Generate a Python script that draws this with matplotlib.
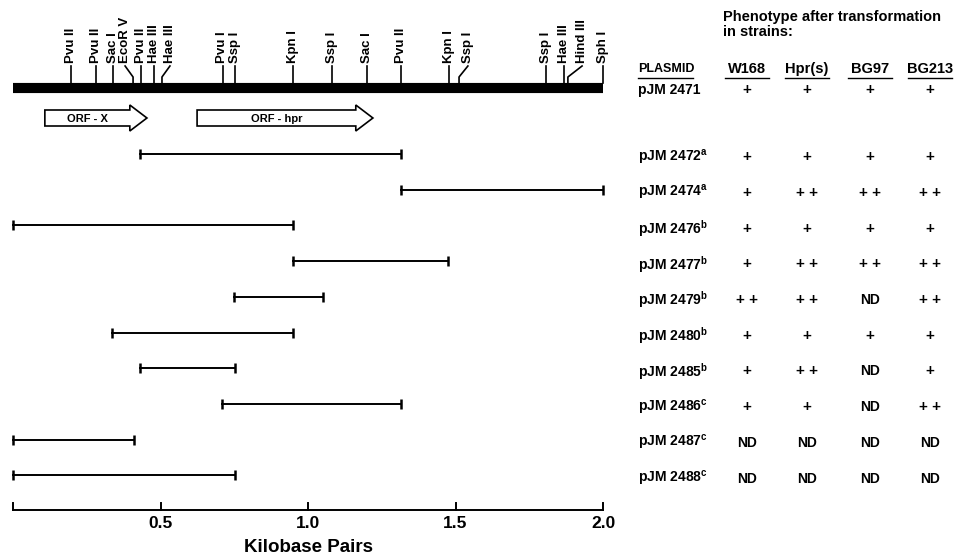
import numpy as np
import matplotlib.pyplot as plt
from matplotlib.patches import Polygon
from matplotlib.transforms import blended_transform_factory

plt.rcParams['font.family'] = ['Liberation Sans', 'DejaVu Sans']
plt.rcParams['font.weight'] = 'bold'
plt.rcParams['mathtext.fontset'] = 'custom'
plt.rcParams['mathtext.bf'] = 'Liberation Sans:bold'

# restriction map (kb)
site_names = ['Pvu II', 'Pvu II', 'Sac I', 'EcoR V', 'Pvu II', 'Hae III', 'Hae III',
              'Pvu I', 'Ssp I', 'Kpn I', 'Ssp I', 'Sac I', 'Pvu II', 'Kpn I',
              'Ssp I', 'Ssp I', 'Hae III', 'Hind III', 'Sph I']
site_kb = [0.197, 0.281, 0.339, 0.407, 0.434, 0.478, 0.505, 0.712, 0.753, 0.949,
           1.081, 1.200, 1.315, 1.478, 1.512, 1.807, 1.868, 1.881, 2.0]

orf_names = ['ORF - X', 'ORF - hpr']
orf_start = [0.108, 0.624]
orf_end = [0.454, 1.220]

# subclones
plasmids = ['pJM 2471', 'pJM 2472', 'pJM 2474', 'pJM 2476', 'pJM 2477', 'pJM 2479',
            'pJM 2480', 'pJM 2485', 'pJM 2486', 'pJM 2487', 'pJM 2488']
notes = ['', 'a', 'a', 'b', 'b', 'b', 'b', 'b', 'c', 'c', 'c']
frag_start = [0.43, 1.315, 0.0, 0.949, 0.749, 0.336, 0.43, 0.708, 0.0, 0.0]
frag_end = [1.315, 2.0, 0.949, 1.475, 1.05, 0.949, 0.753, 1.315, 0.41, 0.753]

strains = ['W168', 'Hpr(s)', 'BG97', 'BG213']
W168 = ['+', '+', '+', '+', '+', '++', '+', '+', '+', 'ND', 'ND']
Hpr_s = ['+', '+', '++', '+', '++', '++', '+', '++', '+', 'ND', 'ND']
BG97 = ['+', '+', '++', '+', '++', 'ND', '+', 'ND', 'ND', 'ND', 'ND']
BG213 = ['+', '+', '++', '+', '++', '++', '+', '+', '++', 'ND', 'ND']

scale_ticks = [0.0, 0.5, 1.0, 1.5, 2.0]

# layout: rows of 35.7 px, fragment 1 at 154 px
W, H = 958, 557
row_px = 35.7
y0 = 154
def r(px):
    return (px - y0) / row_px + 1

fig = plt.figure(figsize=(W / 100, H / 100), dpi=100)
ax = fig.add_axes([0, 0, 1, 1])
ax.set_xlim(-13 / 295, (W - 13) / 295)
ax.set_ylim(r(H), r(0))
ax.axis('off')

MAP_Y = r(88)
ORF_Y = r(118)

# plasmid bar
ax.plot([0, 2.0], [MAP_Y, MAP_Y], color='black', lw=7.3, solid_capstyle='butt')

# sites
label_shift = {3: -0.027, 6: 0.027, 7: -0.004, 14: 0.03, 17: 0.048}
for i, (nm, x) in enumerate(zip(site_names, site_kb)):
    lx = x + label_shift.get(i, 0)
    if i in label_shift and i != 7:
        ax.plot([x, x, lx], [r(83), r(77), r(66)], color='black', lw=1.2)
    else:
        ax.plot([x, x], [r(83), r(66)], color='black', lw=1.2)
    ax.text(lx, r(63), nm, rotation=90, ha='center', va='bottom', fontsize=9.5)

# ORF arrows
for nm, s, e in zip(orf_names, orf_start, orf_end):
    head = 0.058
    hb, hh = 8 / row_px, 13 / row_px
    pts = [(s, ORF_Y - hb), (e - head, ORF_Y - hb), (e - head, ORF_Y - hh), (e, ORF_Y),
           (e - head, ORF_Y + hh), (e - head, ORF_Y + hb), (s, ORF_Y + hb)]
    ax.add_patch(Polygon(pts, closed=True, facecolor='white', edgecolor='black', lw=1.2))
    ax.text((s + e - head) / 2, ORF_Y + 0.02, nm, ha='center', va='center', fontsize=8)

# fragments
for i, (s, e) in enumerate(zip(frag_start, frag_end)):
    ax.plot([s, e], [i + 1, i + 1], color='black', lw=1.4, marker='|', ms=7,
            mew=1.8)

# scale
SC_Y = r(510)
ax.plot([0, 2.0], [SC_Y, SC_Y], color='black', lw=1.4)
for t in scale_ticks:
    ax.plot([t, t], [SC_Y, SC_Y - 7 / row_px], color='black', lw=1.4)
    if t > 0:
        ax.text(t, r(523), '%.1f' % t, ha='center', va='center', fontsize=12.5)
ax.text(1.0, r(548), 'Kilobase Pairs', ha='center', va='center', fontsize=13.5)

# table
tr = blended_transform_factory(fig.transFigure, ax.transData)
col_x = [747, 807, 870, 930]
lab_x = 638
ax.text(723 / W, r(10), 'Phenotype after transformation\nin strains:', transform=tr,
        ha='left', va='top', fontsize=10.5, linespacing=1.05)
ax.text(lab_x / W, r(69), 'PLASMID', transform=tr, ha='left', va='center', fontsize=9)
ax.plot([lab_x / W, 693 / W], [r(78), r(78)], transform=tr, color='black', lw=1)
for cx, st in zip(col_x, strains):
    ax.text(cx / W, r(69), st, transform=tr, ha='center', va='center', fontsize=10.5)
    ax.plot([(cx - 22) / W, (cx + 22) / W], [r(78), r(78)], transform=tr,
            color='black', lw=1)

row_y = [r(90)] + [i + 1 + 0.09 for i in range(len(frag_start))]
for y, pl, nt, *vals in zip(row_y, plasmids, notes, W168, Hpr_s, BG97, BG213):
    lbl = pl + (r'$^{\mathbf{%s}}$' % nt if nt else '')
    ax.text(lab_x / W, y, lbl, transform=tr, ha='left', va='center', fontsize=10)
    for cx, v in zip(col_x, vals):
        txt = '+ +' if v == '++' else v
        fs = 10 if v == 'ND' else 11
        ax.text(cx / W, y, txt, transform=tr, ha='center', va='center', fontsize=fs)

plt.savefig('out.png', dpi=100)
